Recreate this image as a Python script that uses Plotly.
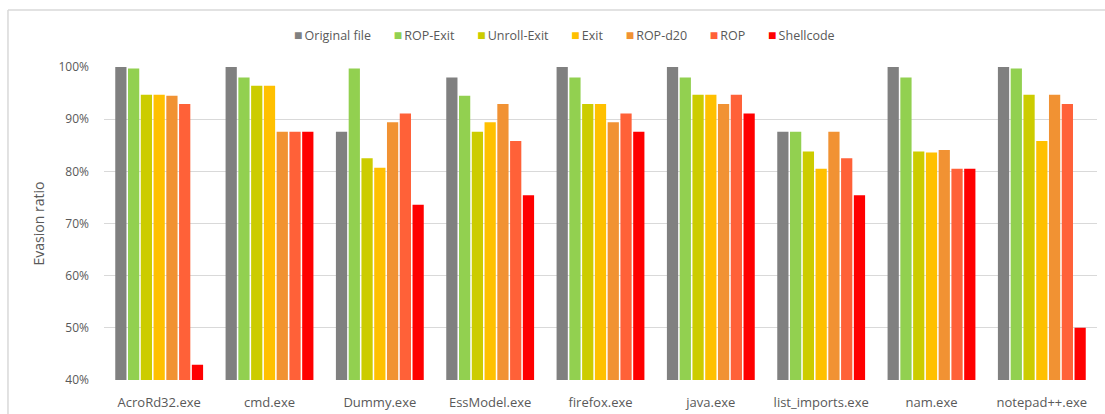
import plotly.graph_objects as go

categories = ["AcroRd32.exe", "cmd.exe", "Dummy.exe", "EssModel.exe", "firefox.exe",
              "java.exe", "list_imports.exe", "nam.exe", "notepad++.exe"]

original_file = [100.0, 100.0, 87.6, 98.0, 100.0, 100.0, 87.6, 100.0, 100.0]
rop_exit      = [99.7, 98.0, 99.7, 94.5, 98.0, 98.0, 87.6, 98.0, 99.7]
unroll_exit   = [94.7, 96.4, 82.5, 87.6, 92.9, 94.7, 83.8, 83.8, 94.7]
exit_         = [94.7, 96.4, 80.7, 89.4, 92.9, 94.7, 80.5, 83.6, 85.8]
rop_d20       = [94.5, 87.6, 89.4, 92.9, 89.4, 92.9, 87.6, 84.1, 94.7]
rop           = [92.9, 87.6, 91.1, 85.8, 91.1, 94.7, 82.5, 80.5, 92.9]
shellcode     = [42.9, 87.6, 73.6, 75.4, 87.6, 91.1, 75.4, 80.5, 50.0]

series = [
    ("Original file", original_file, "#808080"),
    ("ROP-Exit", rop_exit, "#92D050"),
    ("Unroll-Exit", unroll_exit, "#CCCC00"),
    ("Exit", exit_, "#FFC000"),
    ("ROP-d20", rop_d20, "#F19233"),
    ("ROP", rop, "#FF6138"),
    ("Shellcode", shellcode, "#FF0000"),
]

y_ticks = [40, 50, 60, 70, 80, 90, 100]
y_tick_labels = ["40%", "50%", "60%", "70%", "80%", "90%", "100%"]

FONT = "Open Sans"
TEXT = "#595959"
GRID = "#D9D9D9"

fig = go.Figure()
for name, vals, color in series:
    fig.add_trace(go.Bar(
        name=name, x=categories, y=vals,
        marker=dict(color=color, line=dict(width=0)),
        showlegend=False,
    ))

# compact legend row: coloured square + series name, centred above the plot
gap = "&nbsp;" * 7
legend_text = gap.join(
    f'<span style="color:{color};font-size:14px">\u25A0</span>\u2009{name}'
    for name, _, color in series
)

fig.update_layout(
    width=1105, height=414,
    margin=dict(l=104, r=8, t=67, b=34, pad=0),
    paper_bgcolor="white", plot_bgcolor="white",
    barmode="group", bargap=0.19, bargroupgap=0.12,
    font=dict(family=FONT, size=12, color=TEXT),
    showlegend=False,
    xaxis=dict(showline=False, showgrid=False, ticks="", zeroline=False,
               automargin=False, ticklabelstandoff=13,
               tickfont=dict(family=FONT, size=13, color=TEXT)),
    yaxis=dict(range=[40, 100], tickvals=y_ticks, ticktext=y_tick_labels,
               showgrid=True, gridcolor=GRID, gridwidth=1, zeroline=False,
               automargin=False, showline=False, ticks="", ticklabelstandoff=14,
               tickfont=dict(family=FONT, size=12, color=TEXT),
               title=dict(text="Evasion ratio", standoff=10,
                          font=dict(family=FONT, size=14, color=TEXT))),
    annotations=[
        dict(text=legend_text, xref="paper", yref="paper", x=0.4637, y=(380 - 34) / 313,
             xanchor="center", yanchor="middle", showarrow=False,
             font=dict(family=FONT, size=12.5, color=TEXT)),
    ],
    shapes=[
        dict(type="line", xref="paper", yref="paper", x0=-0.0967, x1=1.2, y0=1.182, y1=1.182,
             line=dict(color=GRID, width=1.5)),
        dict(type="line", xref="paper", yref="paper", x0=-0.0967, x1=-0.0967, y0=1.182, y1=-0.3,
             line=dict(color=GRID, width=1.5)),
    ],
)

fig.write_html("out.html")
